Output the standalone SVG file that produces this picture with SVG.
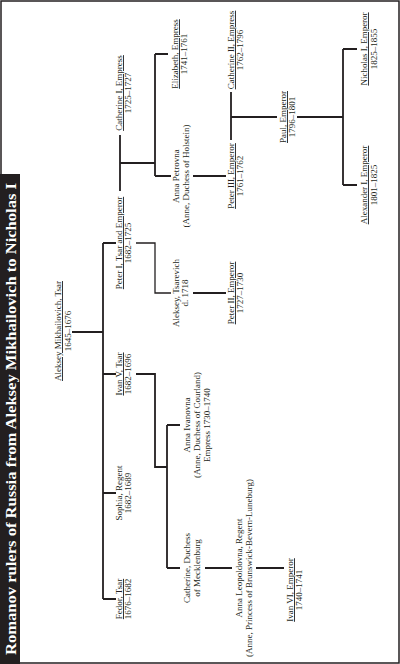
<svg xmlns="http://www.w3.org/2000/svg" width="400" height="664" viewBox="0 0 400 664">
<style>
text{font-family:"Liberation Serif","Times New Roman",serif;font-size:9px;fill:#231f20;text-anchor:middle}
.u{text-decoration:underline}
.title{font-size:14px;font-weight:bold;fill:#fff;text-anchor:start}
.c{fill:none;stroke:#231f20;stroke-width:1.8}
.t{stroke-width:1.3}
</style>
<rect x="0" y="0" width="400" height="664" fill="#fff"/>
<rect x="1" y="1" width="398" height="662" fill="none" stroke="#231f20" stroke-width="1.5"/>
<g id="title">
<rect x="0" y="174" width="20" height="490" fill="#231f20"/>
<text class="title" x="16" y="655" transform="rotate(-90 16 655)" textLength="472" lengthAdjust="spacingAndGlyphs">Romanov rulers of Russia from Aleksey Mikhailovich to Nicholas I</text>
</g>
<g id="connectors">
<path class="c" d="M72 332H103M103 243V599M103 243H116M103 374H116M103 493H116M103 599H116"/>
<path class="c t" d="M136 243H155V293H171"/>
<path class="c" d="M120 135V191M120 163H155M155 54V176M155 54H168M155 176H171"/>
<path class="c" d="M136 374H155V467H167M167 425V568M167 425H180M167 568H180"/>
<path class="c" d="M193 293H226M193 176H226"/>
<path class="c" d="M205 568H232M256 568H284"/>
<path class="c" d="M231 92V140M231 117H277"/>
<path class="c" d="M297 117H343M343 49V185M343 49H357M343 185H357"/>
</g>
<g id="aleksey-mikhailovich" transform="translate(61 331) rotate(-90)"><text class="u" x="0" y="0">Aleksey Mikhailovich, Tsar</text><text x="0" y="10">1645–1676</text></g>
<g id="fedor" transform="translate(122 599) rotate(-90)"><text class="u" x="0" y="0">Fedor, Tsar</text><text x="0" y="9">1676–1682</text></g>
<g id="sophia" transform="translate(122 493) rotate(-90)"><text x="0" y="0">Sophia, Regent</text><text x="0" y="9">1682–1689</text></g>
<g id="ivan-v" transform="translate(122 374) rotate(-90)"><text class="u" x="0" y="0">Ivan V, Tsar</text><text x="0" y="9">1682–1696</text></g>
<g id="peter-i" transform="translate(122 243) rotate(-90)"><text class="u" x="0" y="0">Peter I, Tsar and Emperor</text><text x="0" y="9">1682–1725</text></g>
<g id="catherine-i" transform="translate(122 93) rotate(-90)"><text class="u" x="0" y="0">Catherine I, Empress</text><text x="0" y="9">1725–1727</text></g>
<g id="aleksey-tsarevich" transform="translate(179 293) rotate(-90)"><text x="0" y="0">Aleksey, Tsarevich</text><text x="0" y="9">d. 1718</text></g>
<g id="anna-petrovna" transform="translate(179 176) rotate(-90)"><text x="0" y="0">Anna Petrovna</text><text x="0" y="10">(Anne, Duchess of Holstein)</text></g>
<g id="elizabeth" transform="translate(178 54) rotate(-90)"><text class="u" x="0" y="0">Elizabeth, Empress</text><text x="0" y="9">1741–1761</text></g>
<g id="anna-ivanovna" transform="translate(190 425) rotate(-90)"><text x="0" y="0">Anna Ivanovna</text><text x="0" y="10">(Anne, Duchess of Courland)</text><text x="0" y="20">Empress 1730–1740</text></g>
<g id="catherine-mecklenburg" transform="translate(190 568) rotate(-90)"><text x="0" y="0">Catherine, Duchess</text><text x="0" y="10">of Mecklenburg</text></g>
<g id="anna-leopoldovna" transform="translate(242 568) rotate(-90)"><text x="0" y="0">Anna Leopoldovna, Regent</text><text x="0" y="10">(Anne, Princess of Brunswick-Bevern-Luneburg)</text></g>
<g id="ivan-vi" transform="translate(293 590) rotate(-90)"><text class="u" x="0" y="0">Ivan VI, Emperor</text><text x="0" y="9">1740–1741</text></g>
<g id="peter-ii" transform="translate(234 293) rotate(-90)"><text class="u" x="0" y="0">Peter II, Emperor</text><text x="0" y="9">1727–1730</text></g>
<g id="peter-iii" transform="translate(234 176) rotate(-90)"><text class="u" x="0" y="0">Peter III, Emperor</text><text x="0" y="9">1761–1762</text></g>
<g id="catherine-ii" transform="translate(234 50) rotate(-90)"><text class="u" x="0" y="0">Catherine II, Empress</text><text x="0" y="9">1762–1796</text></g>
<g id="paul" transform="translate(286 117) rotate(-90)"><text class="u" x="0" y="0">Paul, Emperor</text><text x="0" y="9">1796–1801</text></g>
<g id="nicholas-i" transform="translate(367 49) rotate(-90)"><text class="u" x="0" y="0">Nicholas I, Emperor</text><text x="0" y="10">1825–1855</text></g>
<g id="alexander-i" transform="translate(367 185) rotate(-90)"><text class="u" x="0" y="0">Alexander I, Emperor</text><text x="0" y="10">1801–1825</text></g>
</svg>
